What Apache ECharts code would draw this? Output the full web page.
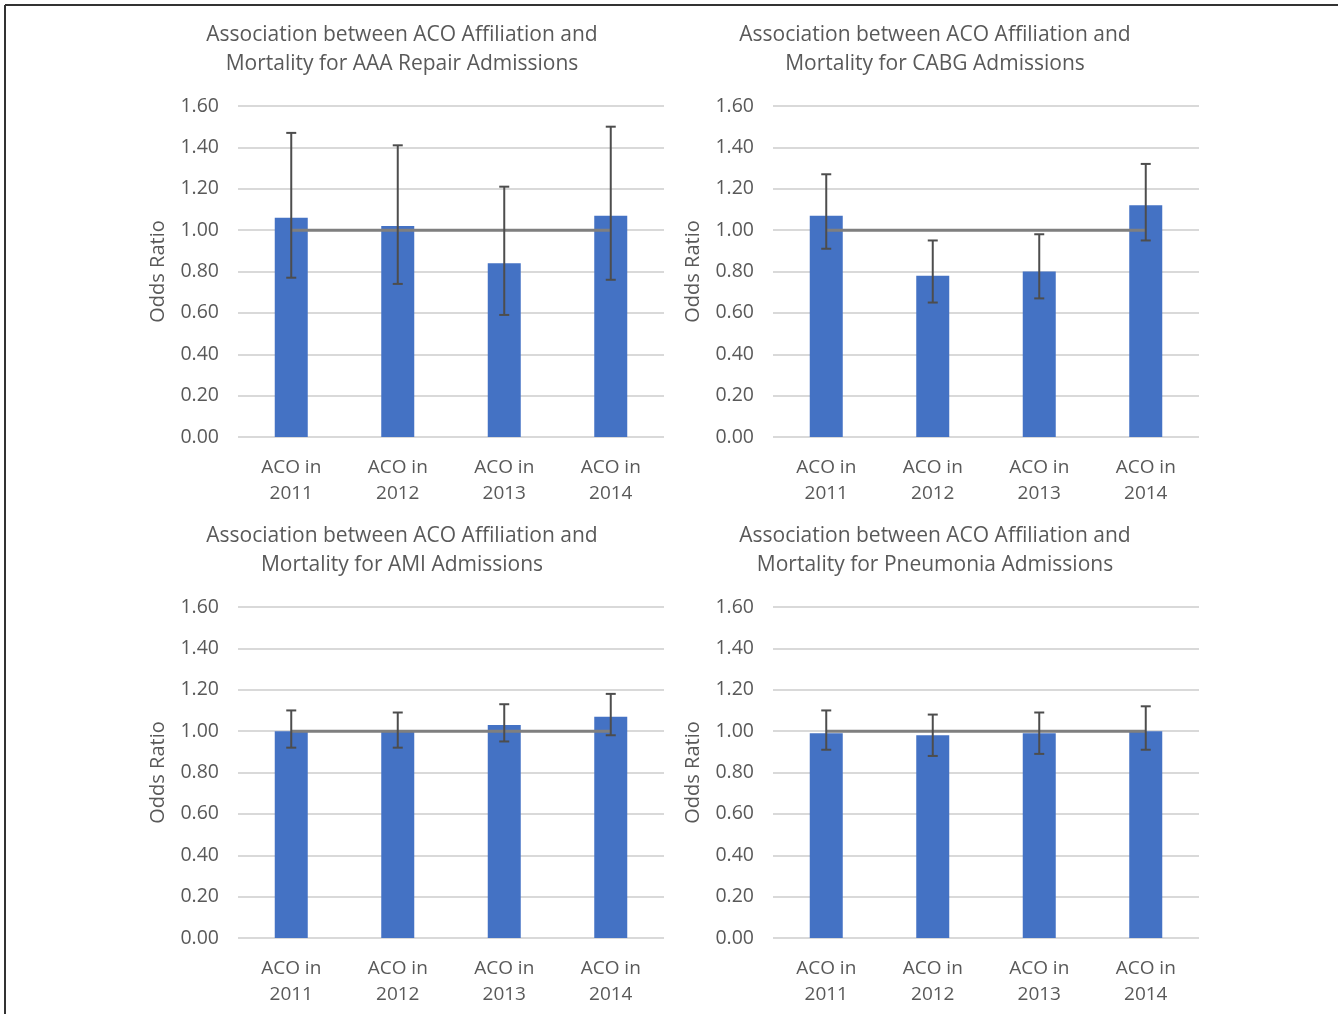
<!DOCTYPE html>
<html>
<head>
<meta charset="utf-8">
<script src="https://cdn.jsdelivr.net/npm/echarts@6/dist/echarts.min.js"></script>
<style>
html,body{margin:0;padding:0;background:#fff;}
#c{width:1338px;height:1014px;}
</style>
</head>
<body>
<div id="c"></div>
<script>
const categories = ['ACO in\n2011', 'ACO in\n2012', 'ACO in\n2013', 'ACO in\n2014'];
const yTicks = [0, 0.2, 0.4, 0.6, 0.8, 1.0, 1.2, 1.4, 1.6];
const refLine = [1, 1, 1, 1];

const titles = [
  'Association between ACO Affiliation and\nMortality for AAA Repair Admissions',
  'Association between ACO Affiliation and\nMortality for CABG Admissions',
  'Association between ACO Affiliation and\nMortality for AMI Admissions',
  'Association between ACO Affiliation and\nMortality for Pneumonia Admissions'
];

// AAA Repair
const aaaOR   = [1.06, 1.02, 0.84, 1.07];
const aaaLow  = [0.77, 0.74, 0.59, 0.76];
const aaaHigh = [1.47, 1.41, 1.21, 1.50];
// CABG
const cabgOR   = [1.07, 0.78, 0.80, 1.12];
const cabgLow  = [0.91, 0.65, 0.67, 0.95];
const cabgHigh = [1.27, 0.95, 0.98, 1.32];
// AMI
const amiOR   = [1.00, 1.00, 1.03, 1.07];
const amiLow  = [0.92, 0.92, 0.95, 0.98];
const amiHigh = [1.10, 1.09, 1.13, 1.18];
// Pneumonia
const pneuOR   = [0.99, 0.98, 0.99, 1.00];
const pneuLow  = [0.91, 0.88, 0.89, 0.91];
const pneuHigh = [1.10, 1.08, 1.09, 1.12];

const panels = [
  {or: aaaOR, lo: aaaLow, hi: aaaHigh},
  {or: cabgOR, lo: cabgLow, hi: cabgHigh},
  {or: amiOR, lo: amiLow, hi: amiHigh},
  {or: pneuOR, lo: pneuLow, hi: pneuHigh}
];

const FONT = '"Open Sans", "Noto Sans", sans-serif';
const TXT = '#595959';
const gridPos = [
  {left: 238, top: 106},
  {left: 773, top: 106},
  {left: 238, top: 607},
  {left: 773, top: 607}
];
const titleX = [402, 935, 402, 935];
const titleY = [21, 21, 522, 522];

const option = {
  backgroundColor: '#fff',
  animation: false,
  title: titles.map((t, i) => ({
    text: t, left: titleX[i], top: titleY[i], textAlign: 'center', padding: 0,
    textStyle: {fontFamily: FONT, fontSize: 21, fontWeight: 'normal', color: TXT, lineHeight: 29}
  })),
  grid: gridPos.map(g => ({left: g.left, top: g.top, width: 426, height: 331, containLabel: false})),
  xAxis: gridPos.map((g, i) => ({
    type: 'category', gridIndex: i, data: categories,
    axisLine: {show: false}, axisTick: {show: false},
    axisLabel: {fontFamily: FONT, fontSize: 19, color: TXT, lineHeight: 26, margin: 18}
  })),
  yAxis: gridPos.map((g, i) => ({
    type: 'value', gridIndex: i, min: 0, max: 1.6, interval: 0.2,
    name: 'Odds Ratio', nameLocation: 'middle', nameGap: 70, nameRotate: 90,
    nameTextStyle: {fontFamily: FONT, fontSize: 20, color: TXT},
    axisLine: {show: false}, axisTick: {show: false},
    axisLabel: {fontFamily: FONT, fontSize: 19.5, color: TXT, margin: 19,
      formatter: v => v.toFixed(2)},
    splitLine: {lineStyle: {color: '#d9d9d9', width: 2}}
  })),
  graphic: [
    {type: 'line', shape: {x1: 5, y1: 5, x2: 1338, y2: 5}, style: {stroke: '#333', lineWidth: 2}},
    {type: 'line', shape: {x1: 5, y1: 5, x2: 5, y2: 1014}, style: {stroke: '#333', lineWidth: 2}}
  ],
  series: []
};

panels.forEach((p, i) => {
  option.series.push({
    type: 'bar', xAxisIndex: i, yAxisIndex: i, data: p.or,
    barWidth: 33, itemStyle: {color: '#4472C4'}, z: 2
  });
  option.series.push({
    type: 'line', xAxisIndex: i, yAxisIndex: i, data: refLine,
    symbol: 'none', lineStyle: {color: '#7f7f7f', width: 3}, z: 3
  });
  option.series.push({
    type: 'custom', xAxisIndex: i, yAxisIndex: i, z: 4,
    data: p.lo.map((l, k) => [k, l, p.hi[k]]),
    renderItem: function (params, api) {
      const top = api.coord([api.value(0), api.value(2)]);
      const bot = api.coord([api.value(0), api.value(1)]);
      const x = top[0];
      const cw = 5;
      const st = {stroke: '#4d4d4d', lineWidth: 2};
      return {type: 'group', children: [
        {type: 'line', shape: {x1: x, y1: top[1], x2: x, y2: bot[1]}, style: st},
        {type: 'line', shape: {x1: x - cw, y1: top[1], x2: x + cw, y2: top[1]}, style: st},
        {type: 'line', shape: {x1: x - cw, y1: bot[1], x2: x + cw, y2: bot[1]}, style: st}
      ]};
    }
  });
});

const chart = echarts.init(document.getElementById('c'));
chart.setOption(option);
</script>
</body>
</html>
